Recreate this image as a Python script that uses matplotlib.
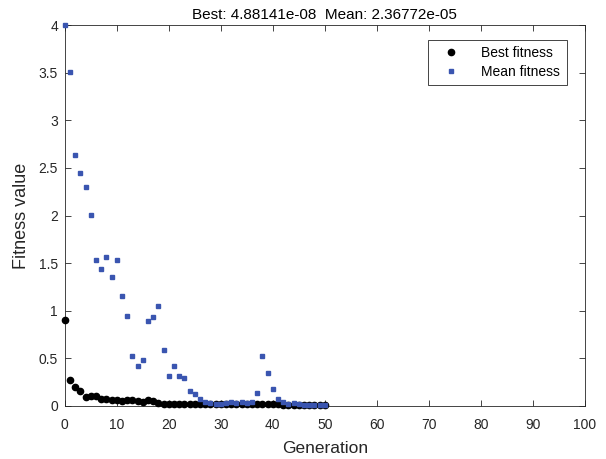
import numpy as np
import matplotlib.pyplot as plt

# generation index 0..50
generation = np.arange(51)

best_fitness = [0.90, 0.27, 0.20, 0.16, 0.09, 0.105, 0.105, 0.07, 0.07, 0.06,
                0.06, 0.05, 0.06, 0.06, 0.05, 0.045, 0.06, 0.05, 0.035, 0.025,
                0.025, 0.025, 0.025, 0.025, 0.025, 0.025, 0.025, 0.02, 0.02, 0.02,
                0.02, 0.02, 0.02, 0.02, 0.02, 0.02, 0.02, 0.02, 0.02, 0.02,
                0.02, 0.02, 0.01, 0.01, 0.01, 0.01, 0.01, 0.01, 0.01, 0.01,
                0.01]

mean_fitness = [4.00, 3.51, 2.63, 2.45, 2.30, 2.01, 1.53, 1.44, 1.56, 1.35,
                1.53, 1.16, 0.945, 0.52, 0.42, 0.48, 0.89, 0.93, 1.05, 0.585,
                0.31, 0.42, 0.32, 0.29, 0.16, 0.13, 0.077, 0.042, 0.03, 0.025,
                0.025, 0.035, 0.04, 0.035, 0.04, 0.03, 0.04, 0.14, 0.53, 0.35,
                0.175, 0.07, 0.04, 0.02, 0.03, 0.02, 0.015, 0.015, 0.015, 0.015,
                0.015]

title_text = "Best: 4.88141e-08  Mean: 2.36772e-05"

plt.rcParams['font.family'] = ['Liberation Sans', 'DejaVu Sans']

fig = plt.figure(figsize=(6.06, 4.59), dpi=100)
ax = fig.add_axes([0.107, 0.1155, 0.858, 0.83])

ax.plot(generation, best_fitness, 'o', color='black', markersize=4.5,
        label='Best fitness', clip_on=False, zorder=3)
ax.plot(generation, mean_fitness, 's', color='#3a55b0', markersize=3.5,
        label='Mean fitness', clip_on=False, zorder=3)

ax.set_xlim(0, 100)
ax.set_ylim(0, 4)
ax.set_xticks(np.arange(0, 101, 10))
ax.set_yticks([0, 0.5, 1, 1.5, 2, 2.5, 3, 3.5, 4])
ax.set_yticklabels(['0', '0.5', '1', '1.5', '2', '2.5', '3', '3.5', '4'])
ax.tick_params(direction='in', length=4, labelsize=10, colors='#262626',
               top=True, right=True, width=0.6, pad=5)
ax.tick_params(axis='x', pad=9)
for s in ax.spines.values():
    s.set_color('#262626')
    s.set_linewidth(0.6)

ax.set_xlabel('Generation', fontsize=12.5, color='#262626', labelpad=6)
ax.set_ylabel('Fitness value', fontsize=13, color='#262626', labelpad=6)
ax.set_title(title_text, fontsize=11, color='black', pad=4)

leg = ax.legend(loc='upper right', bbox_to_anchor=(0.965, 0.961), fontsize=10,
                fancybox=False, edgecolor='#262626', framealpha=1,
                borderaxespad=0, handlelength=2.4, handletextpad=1.0,
                borderpad=0.45, labelspacing=0.35)
leg.get_frame().set_linewidth(0.6)

fig.savefig('out.png', dpi=100)
